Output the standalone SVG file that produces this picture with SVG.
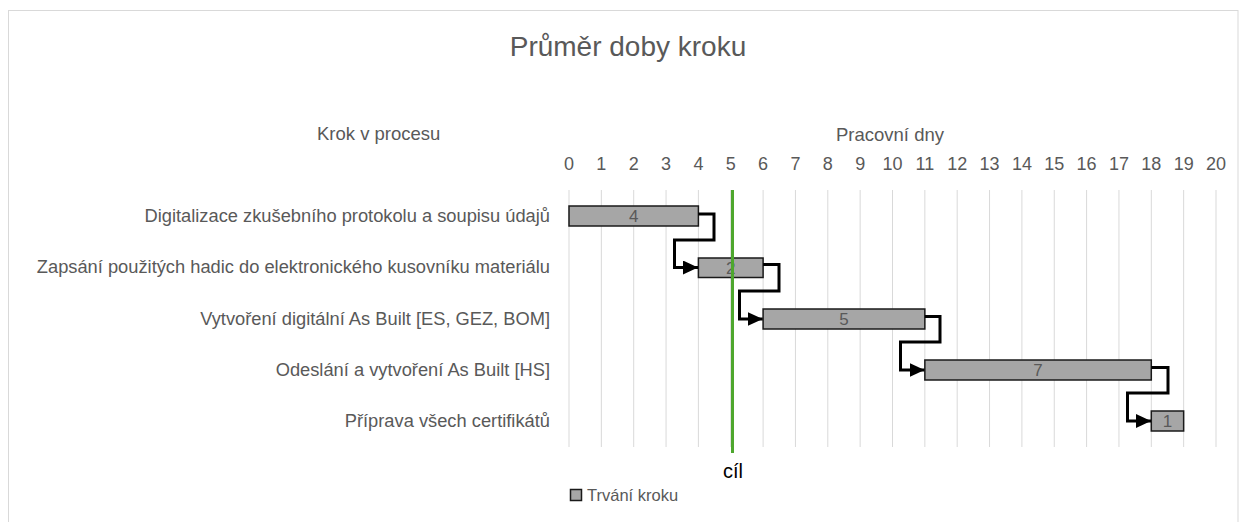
<svg xmlns="http://www.w3.org/2000/svg" width="1248" height="522" viewBox="0 0 1248 522">
<style>
  text { font-family: "Liberation Sans", Arial, sans-serif; fill: #595959; }
  .title { font-size: 28px; text-anchor: middle; }
  .axt { font-size: 18.5px; }
  .tick { font-size: 18px; text-anchor: middle; }
  .cat { font-size: 18.3px; text-anchor: end; }
  .grid { stroke: #d9d9d9; stroke-width: 1; }
  .bar { fill: #a6a6a6; stroke: #1a1a1a; stroke-width: 1.5; }
  .blab { font-size: 17px; text-anchor: middle; fill: #595959; }
  .conn { fill: none; stroke: #000; stroke-width: 3; stroke-linejoin: miter; }
</style>
<defs>
  <marker id="arr" markerUnits="userSpaceOnUse" markerWidth="16" markerHeight="14" refX="15" refY="7" orient="auto">
    <path d="M0,0 L15,7 L0,14 Z" fill="#000"/>
  </marker>
</defs>
<rect x="0" y="0" width="1248" height="522" fill="#fff"/>
<rect x="8.5" y="10.5" width="1229.5" height="530" fill="#fff" stroke="#d9d9d9" stroke-width="1"/>
<text class="title" x="628" y="56">Průměr doby kroku</text>
<text class="axt" x="317" y="140">Krok v procesu</text>
<text class="axt" x="890" y="141" text-anchor="middle">Pracovní dny</text>
<g id="ticks">
  <text class="tick" x="569" y="170">0</text>
  <text class="tick" x="601.35" y="170">1</text>
  <text class="tick" x="633.7" y="170">2</text>
  <text class="tick" x="666.05" y="170">3</text>
  <text class="tick" x="698.4" y="170">4</text>
  <text class="tick" x="730.75" y="170">5</text>
  <text class="tick" x="763.1" y="170">6</text>
  <text class="tick" x="795.45" y="170">7</text>
  <text class="tick" x="827.8" y="170">8</text>
  <text class="tick" x="860.15" y="170">9</text>
  <text class="tick" x="892.5" y="170">10</text>
  <text class="tick" x="924.85" y="170">11</text>
  <text class="tick" x="957.2" y="170">12</text>
  <text class="tick" x="989.55" y="170">13</text>
  <text class="tick" x="1021.9" y="170">14</text>
  <text class="tick" x="1054.25" y="170">15</text>
  <text class="tick" x="1086.6" y="170">16</text>
  <text class="tick" x="1118.95" y="170">17</text>
  <text class="tick" x="1151.3" y="170">18</text>
  <text class="tick" x="1183.65" y="170">19</text>
  <text class="tick" x="1216" y="170">20</text>
</g>
<g id="grid">
  <line class="grid" x1="569" y1="190" x2="569" y2="447"/>
  <line class="grid" x1="601.35" y1="190" x2="601.35" y2="447"/>
  <line class="grid" x1="633.7" y1="190" x2="633.7" y2="447"/>
  <line class="grid" x1="666.05" y1="190" x2="666.05" y2="447"/>
  <line class="grid" x1="698.4" y1="190" x2="698.4" y2="447"/>
  <line class="grid" x1="730.75" y1="190" x2="730.75" y2="447"/>
  <line class="grid" x1="763.1" y1="190" x2="763.1" y2="447"/>
  <line class="grid" x1="795.45" y1="190" x2="795.45" y2="447"/>
  <line class="grid" x1="827.8" y1="190" x2="827.8" y2="447"/>
  <line class="grid" x1="860.15" y1="190" x2="860.15" y2="447"/>
  <line class="grid" x1="892.5" y1="190" x2="892.5" y2="447"/>
  <line class="grid" x1="924.85" y1="190" x2="924.85" y2="447"/>
  <line class="grid" x1="957.2" y1="190" x2="957.2" y2="447"/>
  <line class="grid" x1="989.55" y1="190" x2="989.55" y2="447"/>
  <line class="grid" x1="1021.9" y1="190" x2="1021.9" y2="447"/>
  <line class="grid" x1="1054.25" y1="190" x2="1054.25" y2="447"/>
  <line class="grid" x1="1086.6" y1="190" x2="1086.6" y2="447"/>
  <line class="grid" x1="1118.95" y1="190" x2="1118.95" y2="447"/>
  <line class="grid" x1="1151.3" y1="190" x2="1151.3" y2="447"/>
  <line class="grid" x1="1183.65" y1="190" x2="1183.65" y2="447"/>
  <line class="grid" x1="1216" y1="190" x2="1216" y2="447"/>
</g>
<g id="categories">
  <text class="cat" x="550" y="221.5">Digitalizace zkušebního protokolu a soupisu údajů</text>
  <text class="cat" x="550" y="273">Zapsání použitých hadic do elektronického kusovníku materiálu</text>
  <text class="cat" x="550" y="324.5">Vytvoření digitální As Built [ES, GEZ, BOM]</text>
  <text class="cat" x="550" y="375.5">Odeslání a vytvoření As Built [HS]</text>
  <text class="cat" x="550" y="426.5">Příprava všech certifikátů</text>
</g>
<g id="step1">
  <rect class="bar" x="569" y="206" width="129.4" height="20"/>
  <text class="blab" x="633.7" y="222">4</text>
</g>
<g id="step2">
  <rect class="bar" x="698.4" y="258" width="64.7" height="19.5"/>
  <text class="blab" x="730.75" y="273.5">2</text>
</g>
<g id="step3">
  <rect class="bar" x="763.1" y="309" width="161.75" height="20"/>
  <text class="blab" x="844" y="325">5</text>
</g>
<g id="step4">
  <rect class="bar" x="924.85" y="360" width="226.45" height="20"/>
  <text class="blab" x="1038" y="376">7</text>
</g>
<g id="step5">
  <rect class="bar" x="1151.3" y="411" width="32.35" height="20"/>
  <text class="blab" x="1167.5" y="427">1</text>
</g>
<g id="connectors">
  <polyline class="conn" points="698.4,214 714,214 714,240 674.5,240 674.5,267.5 698,267.5" marker-end="url(#arr)"/>
  <polyline class="conn" points="763.1,264.5 779,264.5 779,291 739.5,291 739.5,319 762.7,319" marker-end="url(#arr)"/>
  <polyline class="conn" points="924.85,316.5 940,316.5 940,342 900.5,342 900.5,370 924.5,370" marker-end="url(#arr)"/>
  <polyline class="conn" points="1151.3,367.5 1168,367.5 1168,393 1127.5,393 1127.5,421 1151,421" marker-end="url(#arr)"/>
</g>
<g id="target">
  <line x1="732.5" y1="190" x2="732.5" y2="453" stroke="#4ea72e" stroke-width="3"/>
  <text x="733" y="477.5" font-size="20px" text-anchor="middle" style="fill:#000">cíl</text>
</g>
<g id="legend">
  <rect x="570.5" y="489.5" width="11" height="11" fill="#a6a6a6" stroke="#1a1a1a" stroke-width="1.5"/>
  <text x="587" y="501" font-size="16.5px">Trvání kroku</text>
</g>
</svg>
